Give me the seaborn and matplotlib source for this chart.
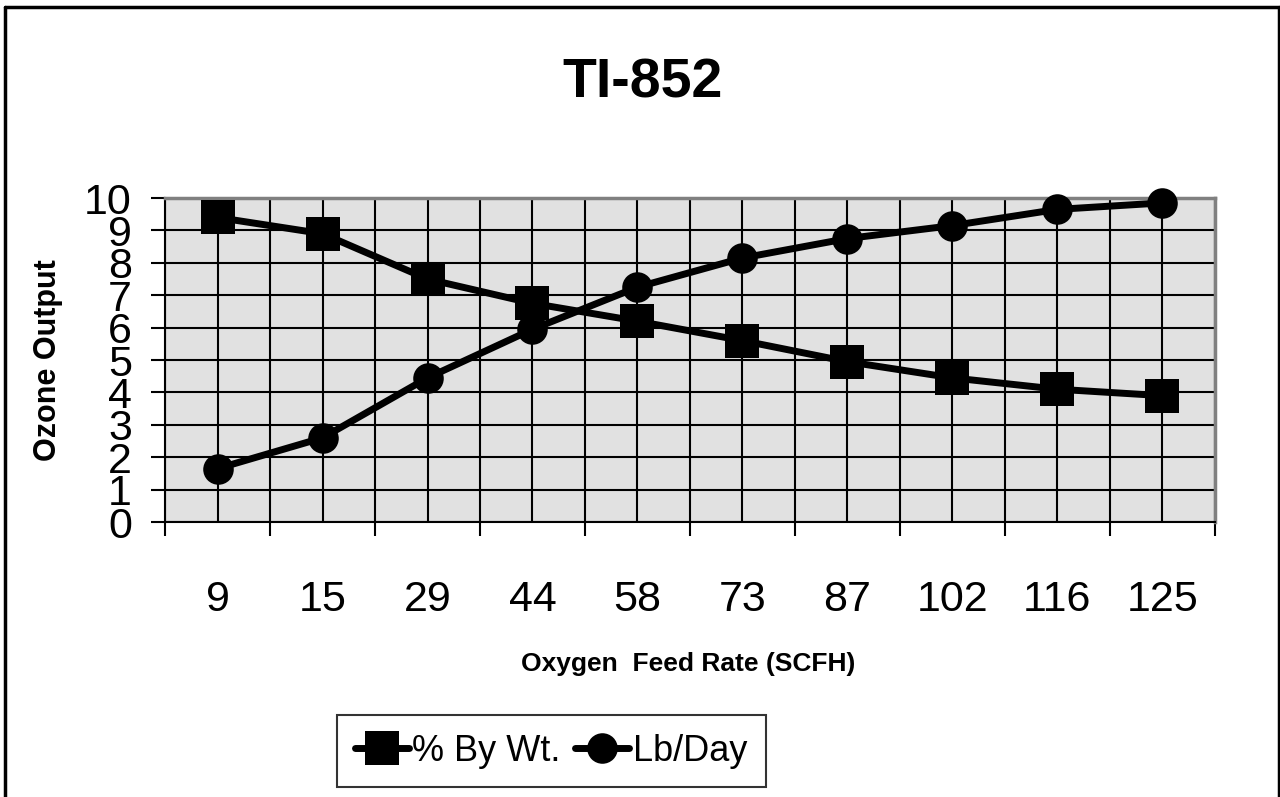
"""
TI-852 ozone output vs oxygen feed rate.
"""

import numpy as np
import pandas as pd
import matplotlib
matplotlib.use("Agg")
import matplotlib.pyplot as plt
from matplotlib.lines import Line2D
import seaborn as sns

# Data
feed_rate = ["9", "15", "29", "44", "58", "73", "87", "102", "116", "125"]
pct_by_wt = [9.4, 8.9, 7.5, 6.75, 6.2, 5.6, 4.95, 4.45, 4.1, 3.9]
lb_day = [1.65, 2.6, 4.45, 5.95, 7.25, 8.15, 8.75, 9.15, 9.65, 9.85]
y_ticks = list(range(0, 11))

sns.set_theme(style="white")
plt.rcParams['font.family'] = ['Liberation Sans', 'DejaVu Sans']
plt.rcParams['text.color'] = 'black'
plt.rcParams['axes.labelcolor'] = 'black'
plt.rcParams['xtick.color'] = 'black'
plt.rcParams['ytick.color'] = 'black'

pos = np.arange(len(feed_rate))
df = pd.DataFrame({'pos': pos, 'pct': pct_by_wt, 'lb': lb_day})

fig = plt.figure(figsize=(12.8, 7.97), dpi=100)
ax = fig.add_axes([0.129, 0.345, 0.820, 0.4065])
ax.set_facecolor('#e1e1e1')

# Series
sns.lineplot(data=df, x='pos', y='pct', ax=ax, color='black', linewidth=5,
             marker='s', markersize=25, markeredgewidth=0, label='% By Wt.',
             clip_on=False, zorder=5)
sns.lineplot(data=df, x='pos', y='lb', ax=ax, color='black', linewidth=5,
             marker='o', markersize=22, markeredgewidth=0, label='Lb/Day',
             clip_on=False, zorder=5)

# Axes scales and grid
ax.set_xlim(-0.5, len(feed_rate) - 0.5)
ax.set_ylim(0, 10)
ax.set_xticks(np.arange(-0.5, len(feed_rate)), labels=[])
ax.set_xticks(pos, labels=feed_rate, minor=True)
ax.set_yticks(y_ticks, labels=[str(v) for v in y_ticks])
ax.grid(True, which='both', axis='x', color='black', linewidth=1.5)
ax.grid(True, which='major', axis='y', color='black', linewidth=1.5)
ax.set_axisbelow(True)

ax.tick_params(axis='x', which='major', direction='out', length=10, width=1.5,
               color='black', bottom=True)
ax.tick_params(axis='x', which='minor', length=0, pad=42, labelsize=31,
               labelcolor='black')
ax.tick_params(axis='y', which='major', direction='out', length=10, width=1.5,
               color='black', left=True, pad=14, labelsize=31,
               labelcolor='black')

for side in ['left', 'bottom']:
    ax.spines[side].set_color('black')
    ax.spines[side].set_linewidth(1.5)
for side in ['top', 'right']:
    ax.spines[side].set_color('#808080')
    ax.spines[side].set_linewidth(2.5)

# Labels
fig.text(0.502, 0.878, 'TI-852', fontsize=40, fontweight='bold',
         ha='center', va='baseline', color='black')
ax.set_xlabel('Oxygen  Feed Rate (SCFH)', fontsize=19, fontweight='bold')
ax.xaxis.set_label_coords(0.498, -0.40)
ax.set_ylabel('Ozone Output', fontsize=22, fontweight='bold')
ax.yaxis.set_label_coords(-0.097, 0.5)

# Legend
leg = ax.legend(loc='center', bbox_to_anchor=(0.4305, 0.0577),
                bbox_transform=fig.transFigure, ncol=2, fontsize=26,
                frameon=True, fancybox=False, edgecolor='black',
                handlelength=1.5, handletextpad=0.1, columnspacing=0.4,
                borderpad=0.5, borderaxespad=0, markerscale=1.0)
leg.get_frame().set_linewidth(1.5)

# Outer chart border (bottom edge runs off the image)
for xs, ys in [([0.004, 0.004], [0.0, 0.991]),
               ([0.004, 0.999], [0.991, 0.991]),
               ([0.999, 0.999], [0.991, 0.0])]:
    fig.add_artist(Line2D(xs, ys, color='black', linewidth=2.5,
                          transform=fig.transFigure))

fig.savefig('out.png', dpi=100)
